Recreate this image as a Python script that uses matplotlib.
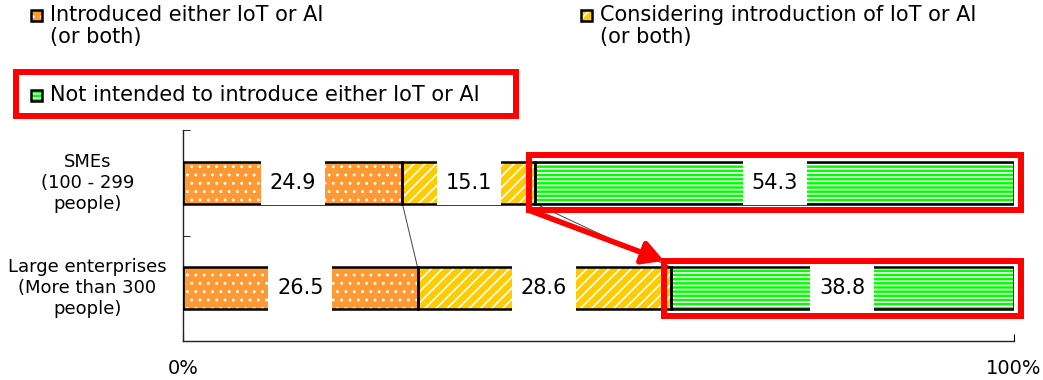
import numpy as np
import matplotlib
matplotlib.use('Agg')
import matplotlib.pyplot as plt
from matplotlib.patches import Rectangle
from matplotlib.transforms import blended_transform_factory

# data (shares in %, not summing to 100 -> bars normalised)
categories = ['SMEs\n(100 - 299\npeople)', 'Large enterprises\n(More than 300\npeople)']
series_names = ['Introduced either IoT or AI\n(or both)',
                'Considering introduction of IoT or AI\n(or both)',
                'Not intended to introduce either IoT or AI']
introduced = [24.9, 26.5]
considering = [15.1, 28.6]
not_intended = [54.3, 38.8]

colors = ['#FF9933', '#FFCC00', '#00FF00']
hatches = ['..', '///', '----']
hatch_lw = [0.9, 1.2, 1.2]

plt.rcParams['font.family'] = ['DejaVu Sans']

values = np.array([introduced, considering, not_intended])
pct = values / values.sum(axis=0) * 100
lefts = np.vstack([np.zeros(2), np.cumsum(pct, axis=0)[:-1]])
rights = lefts + pct

BAR_H = 0.40
LABEL_W = 7.7
y = np.arange(len(categories))

fig = plt.figure(figsize=(10.43, 3.80), dpi=100)
ax = fig.add_axes([183 / 1043, 39 / 380, 831 / 1043, 211 / 380])

for i in range(3):
    with plt.rc_context({'hatch.linewidth': hatch_lw[i]}):
        ax.barh(y, pct[i], left=lefts[i], height=BAR_H, color=colors[i],
                edgecolor='white', hatch=hatches[i], linewidth=0, zorder=2)
    ax.barh(y, pct[i], left=lefts[i], height=BAR_H, fill=False,
            edgecolor='black', linewidth=1.8, zorder=3)
    centers = lefts[i] + pct[i] / 2
    ax.barh(y, LABEL_W, left=centers - LABEL_W / 2, height=BAR_H + 0.03,
            color='white', linewidth=0, zorder=4)
    for j in range(len(y)):
        ax.text(centers[j], y[j], f'{values[i][j]:.1f}', ha='center', va='center',
                fontsize=15, zorder=5)

# series lines between the two bars
for i in range(3):
    ax.plot([rights[i][0], rights[i][1]], [y[0] + BAR_H / 2, y[1] - BAR_H / 2],
            color='#444444', linewidth=0.7, linestyle=':' if i == 2 else '-', zorder=1)

# red highlight boxes round the "not intended" bars + arrow
mx, my = 0.8, 0.06
for j in range(len(y)):
    ax.add_patch(Rectangle((lefts[2][j] - mx, y[j] - BAR_H / 2 - my), pct[2][j] + 2 * mx,
                           BAR_H + 2 * my, fill=False, edgecolor='#FF0000',
                           linewidth=4.3, clip_on=False, zorder=6))
ax.annotate('', xy=(lefts[2][1] - mx, y[1] - BAR_H / 2 - my),
            xytext=(lefts[2][0] - mx, y[0] + BAR_H / 2 + my),
            arrowprops=dict(arrowstyle='-|>,head_length=0.9,head_width=0.5',
                            color='#FF0000', lw=4, mutation_scale=14,
                            shrinkA=0, shrinkB=0), zorder=6, annotation_clip=False)

ax.set_xlim(0, 100)
ax.set_ylim(1.5, -0.5)
ax.spines['top'].set_visible(False)
ax.spines['right'].set_visible(False)
for s in ('left', 'bottom'):
    ax.spines[s].set_color('#222222')
    ax.spines[s].set_linewidth(1.0)
ax.set_xticks([0, 100])
ax.set_xticklabels(['0%', '100%'], fontsize=14)
ax.tick_params(axis='x', direction='in', length=5, pad=13)
ax.set_yticks([])
ax.set_yticks([-0.5, 0.5, 1.5], minor=True)
ax.tick_params(axis='y', which='minor', direction='in', length=5)

trans = blended_transform_factory(ax.transAxes, ax.transData)
for j, name in enumerate(categories):
    ax.text(-0.115, y[j], name, transform=trans, ha='center', va='center',
            multialignment='center', fontsize=13)

# legend drawn by hand: two columns, multi-line labels, handle on first line
W, H = 1043, 380
legend_pos = [(36, 16), (586, 16), (36, 96)]
for i, (px, py) in enumerate(legend_pos):
    with plt.rc_context({'hatch.linewidth': hatch_lw[i]}):
        fig.patches.append(Rectangle(((px - 5) / W, 1 - (py + 5) / H), 11 / W, 11 / H,
                                     transform=fig.transFigure, facecolor=colors[i],
                                     edgecolor='white', hatch=hatches[i], linewidth=0))
    fig.patches.append(Rectangle(((px - 5) / W, 1 - (py + 5) / H), 11 / W, 11 / H,
                                 transform=fig.transFigure, fill=False,
                                 edgecolor='black', linewidth=1.8))
    fig.text((px + 14) / W, 1 - (py - 11) / H, series_names[i], ha='left', va='top',
             fontsize=15, linespacing=1.15)

fig.patches.append(Rectangle((16 / W, 1 - 116 / H), 500 / W, 44 / H, fill=False,
                             edgecolor='#FF0000', linewidth=4.3, transform=fig.transFigure))

fig.savefig('out.png', dpi=100)
